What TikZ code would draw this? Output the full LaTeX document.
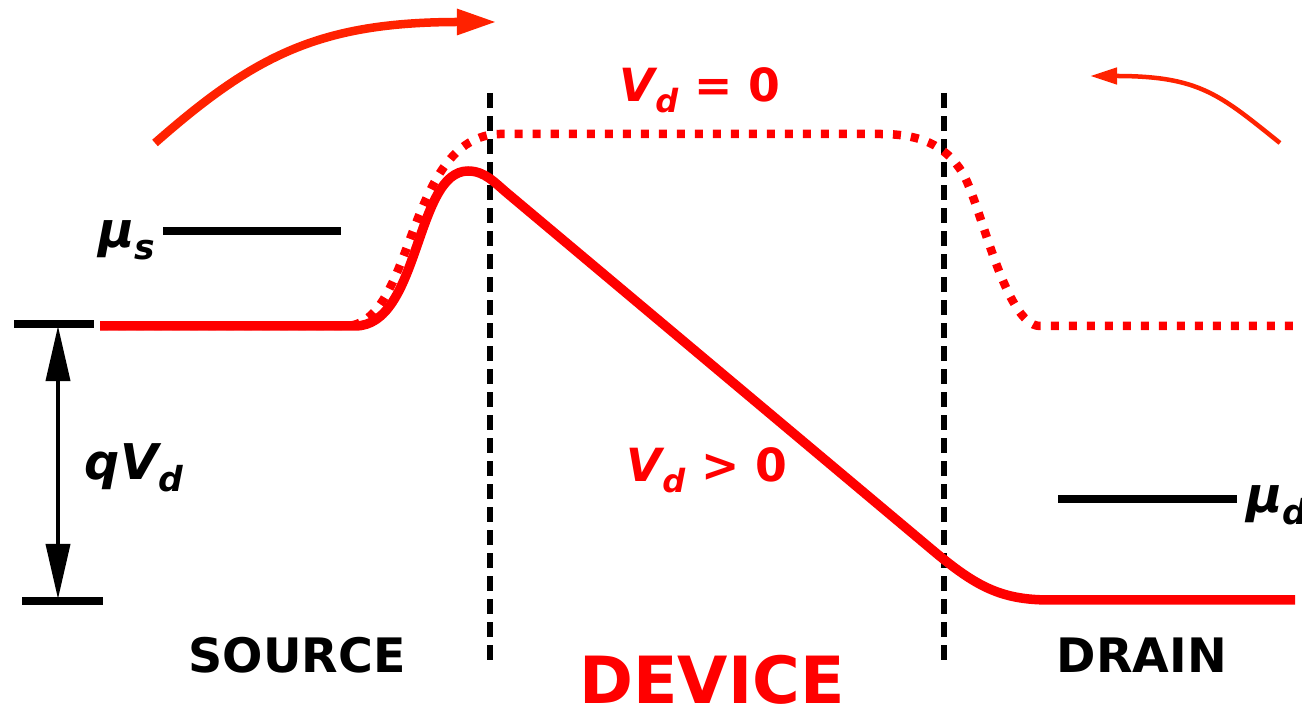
\documentclass[tikz,border=0pt]{standalone}
\usepackage{fontspec}
\setmainfont{DejaVu Sans}
\usetikzlibrary{arrows.meta}

\definecolor{bandred}{RGB}{255,0,0}
\definecolor{flowred}{RGB}{255,34,0}
\newcommand{\lsub}[1]{\raisebox{-0.45ex}{\scalebox{0.7}{#1}}}

\begin{document}
\begin{tikzpicture}[x=0.01cm, y=-0.01cm,
  vdline/.style={bandred, line width=0.095cm, line join=round},
  vzeroline/.style={vdline, line width=0.085cm, dash pattern=on 0.08cm off 0.10cm},
  contactedge/.style={black, line width=0.055cm, dash pattern=on 0.15cm off 0.08cm},
  chempot/.style={black, line width=0.075cm},
  redlbl/.style={bandred, font=\bfseries\fontsize{13}{15}\selectfont, inner sep=0pt},
  blacklbl/.style={black, font=\bfseries\itshape\fontsize{14}{16}\selectfont, inner sep=0pt},
  regionlbl/.style={font=\bfseries\fontsize{13.5}{16}\selectfont, inner sep=0pt},
]
\useasboundingbox (0,0) rectangle (1302,704);

% Contacts
\draw[contactedge] (490,93) -- (490,660);
\draw[contactedge] (944,93) -- (944,660);

% Band profile, no bias
\draw[vzeroline] (100,326) -- (345,326) .. controls (415,326) and (405,136) .. (500,134)
  -- (880,134) .. controls (920,134) and (945,145) .. (962,172)
  .. controls (980,200) and (1005,326) .. (1040,326) -- (1300,326);

% Band profile, with bias
\draw[vdline] (100,326) -- (355,326) .. controls (420,326) and (415,171) .. (468,171)
  .. controls (485,171) and (495,183) .. (507,193) -- (930,548)
  .. controls (975,586) and (1000,600) .. (1050,600) -- (1295,600);

% Chemical potentials
\draw[chempot] (163,231) -- (341,231);
\node[blacklbl] (mus) at (127,240) {μ\lsub{s}};
\draw[chempot] (1058,499) -- (1237,499);
\node[blacklbl, anchor=west] (mud) at (1246,505) {μ\lsub{d}};

% Applied bias
\draw[chempot] (14,324) -- (94,324);
\draw[chempot] (22,601) -- (103,601);
\coordinate (qtop) at (58,326);
\coordinate (qbot) at (58,599);
\draw[black, line width=0.038cm, {Triangle[length=0.55cm,width=0.24cm]}-{Triangle[length=0.55cm,width=0.24cm]}] (qtop) -- (qbot);
\node[blacklbl] (qvd) at (134,468) {qV\lsub{d}};

% Curve labels
\node[redlbl] (vzero) at (700,90) {{\itshape V\lsub{d}} = 0};
\node[redlbl] (vpos) at (707,470) {{\itshape V\lsub{d}} > 0};

% Electron flow
\coordinate (injstart) at (155,143);
\coordinate (injtip) at (497,22);
\draw[flowred, line width=0.085cm, -{Triangle[length=0.4cm,width=0.24cm]}]
  (injstart) .. controls (255,55) and (320,22) .. (injtip);
\coordinate (backstart) at (1280,143);
\coordinate (backtip) at (1090,76);
\draw[flowred, line width=0.045cm, -{Triangle[length=0.27cm,width=0.16cm]}]
  (backstart) .. controls (1220,95) and (1200,76) .. (backtip);

% Regions
\node[regionlbl] (source) at (297,655) {SOURCE};
\node[regionlbl, bandred, font=\bfseries\fontsize{18.5}{20}\selectfont] (device) at (712,680) {DEVICE};
\node[regionlbl] (drain) at (1142,655) {DRAIN};

\end{tikzpicture}
\end{document}
